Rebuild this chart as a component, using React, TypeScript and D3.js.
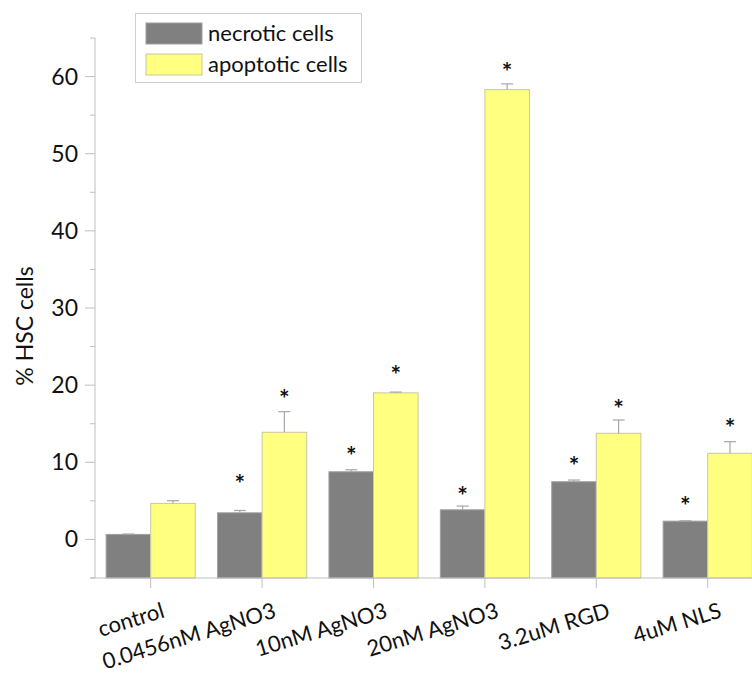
import React from "react";
import * as d3 from "d3";

const categories = ["control", "0.0456nM AgNO3", "10nM AgNO3", "20nM AgNO3", "3.2uM RGD", "4uM NLS"];
const seriesNames = ["necrotic cells", "apoptotic cells"];
const necrotic = [0.65, 3.45, 8.77, 3.84, 7.48, 2.37];
const necroticErr = [0.05, 0.3, 0.26, 0.48, 0.22, 0.05];
const apoptotic = [4.67, 13.89, 19.0, 58.31, 13.76, 11.16];
const apoptoticErr = [0.35, 2.67, 0.1, 0.74, 1.72, 1.51];
// significance marker levels (data units), null = no marker
const necroticStar = [null, 8.09, 11.6, 6.49, 10.42, 5.19];
const apoptoticStar = [null, 19.03, 22.1, 61.47, 17.78, 15.26];
const majorTicks = [0, 10, 20, 30, 40, 50, 60];
const minorTicks = [-5, 5, 15, 25, 35, 45, 55, 65];

const W = 752;
const H = 675;
const FONT = "Lato, 'Noto Sans', sans-serif";
const colors = ["#808080", "#ffff80"];

export default function App() {
  const y = d3.scaleLinear().domain([-5, 65]).range([578, 38]);
  const x = d3.scaleBand<string>().domain(categories).range([95, 763.4]).paddingInner(0.2).paddingOuter(0.1);
  const xs = d3.scaleBand<string>().domain(["n", "a"]).range([0, x.bandwidth()]);
  const series = [
    { key: "n", vals: necrotic, err: necroticErr, star: necroticStar, color: colors[0] },
    { key: "a", vals: apoptotic, err: apoptoticErr, star: apoptoticStar, color: colors[1] },
  ];
  const axisColor = "#bfbfbf";
  return (
    <svg width={W} height={H} style={{ position: "absolute", left: 0, top: 0, background: "#fff" }} fontFamily={FONT}>
      {/* y axis */}
      <line x1={95} x2={95} y1={y(65)} y2={y(-5)} stroke={axisColor} strokeWidth={1} />
      {majorTicks.map((t) => (
        <g key={"M" + t}>
          <line x1={85} x2={95} y1={y(t)} y2={y(t)} stroke={axisColor} />
          <text x={78} y={y(t)} dy="0.35em" textAnchor="end" fontSize={23} fill="#111">{t}</text>
        </g>
      ))}
      {minorTicks.map((t) => (
        <line key={"m" + t} x1={90} x2={95} y1={y(t)} y2={y(t)} stroke={axisColor} />
      ))}
      <text transform={`translate(33, ${326}) rotate(-90)`} textAnchor="middle" fontSize={23} fill="#111">% HSC cells</text>
      {/* bars */}
      {series.map((s) =>
        categories.map((c, i) => {
          const bx = (x(c) as number) + (xs(s.key) as number);
          const bw = xs.bandwidth();
          const cx = bx + bw / 2;
          const top = y(s.vals[i]);
          const et = y(s.vals[i] + s.err[i]);
          return (
            <g key={s.key + c}>
              <rect x={bx} y={top} width={bw} height={y(-5) - top} fill={s.color} stroke={s.key === "a" ? "#c8c8a0" : "#a0a0a0"} strokeWidth={1} />
              <line x1={cx} x2={cx} y1={top} y2={et} stroke="#a6a6a6" strokeWidth={1.2} />
              <line x1={cx - 6} x2={cx + 6} y1={et} y2={et} stroke="#a6a6a6" strokeWidth={1.2} />
              {s.star[i] != null && (
                <text x={cx} y={y(s.star[i] as number)} dy="0.62em" textAnchor="middle" fontSize={25} fontWeight="bold" fill="#111">*</text>
              )}
            </g>
          );
        })
      )}
      {/* x axis */}
      <line x1={90} x2={W} y1={y(-5)} y2={y(-5)} stroke={axisColor} />
      {categories.map((c) => {
        const cx = (x(c) as number) + x.bandwidth() / 2;
        return (
          <g key={"xt" + c}>
            <line x1={cx} x2={cx} y1={y(-5)} y2={y(-5) + 10} stroke={axisColor} />
            <text transform={`translate(${cx + 15}, 617) rotate(-17)`} textAnchor="end" fontSize={22} fill="#111">{c}</text>
          </g>
        );
      })}
      {/* legend */}
      <rect x={135.5} y={13.5} width={226} height={69} fill="#fff" stroke="#d0d0d0" />
      {seriesNames.map((n, i) => (
        <g key={n}>
          <rect x={146} y={23 + i * 31} width={56} height={21} fill={colors[i]} stroke={i === 1 ? "#c8c8a0" : "#a0a0a0"} />
          <text x={208} y={41 + i * 31} fontSize={22} fill="#111">{n}</text>
        </g>
      ))}
    </svg>
  );
}
